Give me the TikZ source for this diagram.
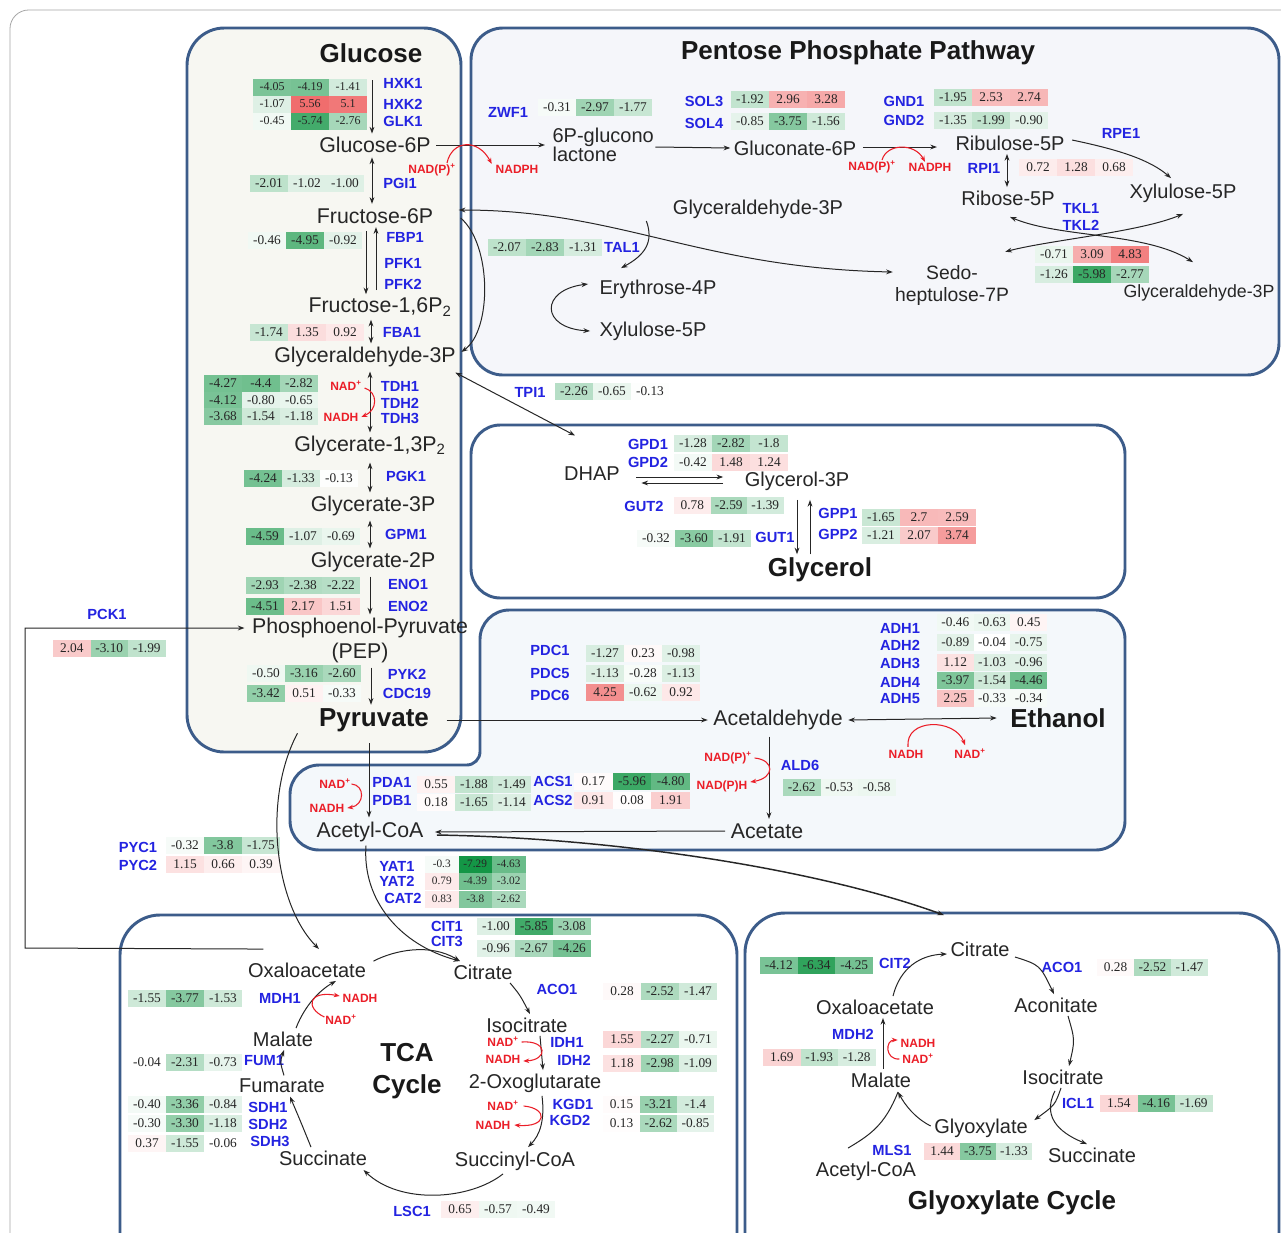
\documentclass[tikz,border=0pt]{standalone}
\usepackage{fontspec}
\setmainfont{Liberation Sans}
\newfontfamily\tnr{Liberation Serif}
\usetikzlibrary{arrows.meta,calc}
\definecolor{boxc}{RGB}{60,92,138}
\definecolor{enz}{RGB}{35,35,225}
\definecolor{nadc}{RGB}{235,30,40}
\definecolor{hmgreen}{RGB}{20,150,70}
\definecolor{hmred}{RGB}{235,65,65}
\definecolor{glcfill}{RGB}{247,247,242}
\definecolor{pppfill}{RGB}{245,246,250}
\definecolor{acfill}{RGB}{244,248,251}
\def\hmfs{10}
\newcommand\hmcell[5]{%
  \pgfmathtruncatemacro\hmneg{(#5)<0}%
  \pgfmathtruncatemacro\hmpct{min(100,abs(#5)*14)}%
  \ifnum\hmneg=1 \colorlet{hmc}{hmgreen!\hmpct!white}\else\colorlet{hmc}{hmred!\hmpct!white}\fi
  \node[hcell, minimum width={#4*0.75pt}, fill=hmc, font=\tnr\fontsize{\hmfs}{10}\selectfont] (#1) at ({#2},{#3}) {#5};}
\newcommand\hmrow[7]{%
  \hmcell{#1a}{#2+0.5*#4}{#3}{#4}{#5}%
  \hmcell{#1b}{#2+1.5*#4}{#3}{#4}{#6}%
  \hmcell{#1c}{#2+2.5*#4}{#3}{#4}{#7}}
\tikzset{
 met/.style={inner sep=1pt, font=\fontsize{15}{17}\selectfont, text=black!85},
 metL/.style={inner sep=1pt, font=\fontsize{16}{19}\selectfont, text=black!85},
 ttl/.style={inner sep=1pt, font=\fontsize{19.5}{24}\selectfont\bfseries, text=black!90},
 enzl/.style={inner sep=0.5pt, font=\fontsize{11}{12}\selectfont\bfseries, text=enz},
 nad/.style={inner sep=0.5pt, font=\fontsize{9}{10}\selectfont\bfseries, text=nadc},
 hcell/.style={inner sep=0pt, minimum height=12.75pt, text=black!85},
 rx/.style={-{Stealth[length=5pt,width=3.6pt]}, line width=0.75pt, black!85},
 rxx/.style={{Stealth[length=5pt,width=3.6pt]}-{Stealth[length=5pt,width=3.6pt]}, line width=0.75pt, black!85},
 rl/.style={line width=0.75pt, black!85},
 rr/.style={-{Stealth[length=4.5pt,width=3.4pt]}, line width=0.8pt, nadc},
 panel/.style={draw=boxc, line width=2.2pt},
}
\begin{document}
\begin{tikzpicture}[x=0.75pt,y=-0.75pt]
\useasboundingbox (0,0) rectangle (1281,1232);
\clip (0,0) rectangle (1281,1232);
\fill[white] (0,0) rectangle (1281,1232);
\draw[black!35, line width=0.6pt, rounded corners=14pt] (10,1250) -- (10,10) -- (1300,10);
% ---------- panels
\draw[panel, fill=pppfill, rounded corners=24pt] (471,28) rectangle (1279,375);
\draw[panel, fill=white, rounded corners=22pt] (471,425) rectangle (1125,598);
\draw[panel, fill=acfill] (480,700) [rounded corners=22pt] -- (480,610) -- (1125,610) -- (1125,850) -- (290,850) -- (290,765) [rounded corners=10pt] -- (480,765) -- cycle;
\draw[panel, fill=glcfill, rounded corners=28pt] (187,28) rectangle (461,752);
\draw[panel, fill=white, rounded corners=30pt] (120,915) rectangle (737,1290);
\draw[panel, fill=white, rounded corners=30pt] (745,913) rectangle (1279,1290);
% ---------- titles
\node[ttl] (glcT) at (371,53) {Glucose};
\node[ttl] (pppT) at (858,53) {Pentose Phosphate Pathway};
\node[ttl] (glyc) at (820,570) {Glycerol};
\node[ttl] (etoh) at (1058,718) {Ethanol};
\node[ttl] (pyr) at (374,720) {Pyruvate};
\node[ttl, align=center] (tcaT) at (407,1071) {TCA\\Cycle};
\node[ttl] (glxT) at (1012,1203) {Glyoxylate Cycle};
% ---------- glycolysis metabolites
\node[metL] (g6p) at (375,145) {Glucose-6P};
\node[metL] (f6p) at (375,216) {Fructose-6P};
\node[metL] (f16p) at (380,307) {Fructose-1,6P\textsubscript{2}};
\node[metL] (gap) at (365,357) {Glyceraldehyde-3P};
\node[metL] (g13p) at (370,446) {Glycerate-1,3P\textsubscript{2}};
\node[metL] (g3p) at (373,506) {Glycerate-3P};
\node[metL] (g2p) at (373,562) {Glycerate-2P};
\node[metL] (pep1) at (360,628) {Phosphoenol-Pyruvate};
\node[metL] (pep2) at (360,653) {(PEP)};
% ---------- PPP metabolites
\node[met, anchor=west, align=left, font=\fontsize{15}{14}\selectfont] (lac) at (551,145) {6P-glucono\\lactone};
\node[met] (glc6p) at (795,148) {Gluconate-6P};
\node[met] (ru5p) at (1010,143) {Ribulose-5P};
\node[met] (xu5p) at (1183,193) {Xylulose-5P};
\node[met] (r5p) at (1008,198) {Ribose-5P};
\node[met, inner sep=0pt, font=\fontsize{14.5}{16}\selectfont] (s7p) at (952,273) {Sedo-};
\node[met, inner sep=0pt, font=\fontsize{14.5}{16}\selectfont] (s7pb) at (952,296) {heptulose-7P};
\node[met, font=\fontsize{13.3}{15}\selectfont] (gap2) at (1199,293) {Glyceraldehyde-3P};
\node[met] (gapP) at (758,209) {Glyceraldehyde-3P};
\node[met] (e4p) at (658,289) {Erythrose-4P};
\node[met] (xu5p2) at (653,331) {Xylulose-5P};
% ---------- glycerol
\node[met] (dhap) at (592,474) {DHAP};
\node[met] (g3pol) at (797,481) {Glycerol-3P};
% ---------- acetyl region
\node[metL] (acald) at (778,720) {Acetaldehyde};
\node[metL] (acetate) at (767,831) {Acetate};
\node[metL] (accoa) at (370,832) {Acetyl-CoA};
% ---------- TCA
\node[met] (oaa) at (307,970) {Oxaloacetate};
\node[met] (cit) at (483,972) {Citrate};
\node[met] (icit) at (527,1025) {Isocitrate};
\node[met] (oxg) at (535,1083) {2-Oxoglutarate};
\node[met] (succoa) at (515,1161) {Succinyl-CoA};
\node[met] (succ) at (323,1158) {Succinate};
\node[met] (fum) at (282,1086) {Fumarate};
\node[met] (mal) at (283,1039) {Malate};
% ---------- glyoxylate
\node[met] (cit2) at (980,949) {Citrate};
\node[met] (acon) at (1056,1005) {Aconitate};
\node[met] (icit2) at (1063,1077) {Isocitrate};
\node[met] (glyox) at (981,1128) {Glyoxylate};
\node[met] (succ2) at (1092,1155) {Succinate};
\node[met] (accoa2) at (866,1171) {Acetyl-CoA};
\node[met] (mal2) at (881,1080) {Malate};
\node[met] (oaa2) at (875,1007) {Oxaloacetate};
% ---------- enzyme labels
\foreach \n/\x/\y/\t in {hxk1/403/83/HXK1, hxk2/403/104/HXK2, glk1/403/121/GLK1, pgi1/400/183/PGI1, fbp1/405/237/FBP1, pfk1/403/263/PFK1, pfk2/403/284/PFK2, fba1/402/332/FBA1, tdh1/400/386/TDH1, tdh2/400/403/TDH2, tdh3/400/418/TDH3, pgk1/406/476/PGK1, gpm1/406/534/GPM1, eno1/408/584/ENO1, eno2/408/606/ENO2, pyk2/407/674/PYK2, cdc19/407/693/CDC19, pck1/107/614/PCK1, zwf1/508/112/ZWF1, sol3/704/101/SOL3, sol4/704/123/SOL4, gnd1/904/101/GND1, gnd2/904/120/GND2, rpe1/1121/133/RPE1, rpi1/984/168/RPI1, tkl1/1081/208/TKL1, tkl2/1081/225/TKL2, tal1/622/247/TAL1, tpi1/530/392/TPI1, gpd1/648/444/GPD1, gpd2/648/462/GPD2, gut2/644/506/GUT2, gut1/775/537/GUT1, gpp1/838/513/GPP1, gpp2/838/534/GPP2, pdc1/550/650/PDC1, pdc5/550/673/PDC5, pdc6/550/695/PDC6, adh1/900/628/ADH1, adh2/900/645/ADH2, adh3/900/663/ADH3, adh4/900/682/ADH4, adh5/900/699/ADH5, ald6/800/765/ALD6, pda1/392/782/PDA1, pdb1/392/800/PDB1, acs1/553/781/ACS1, acs2/553/800/ACS2, yat1/397/866/YAT1, yat2/397/881/YAT2, cat2/403/898/CAT2, pyc1/138/847/PYC1, pyc2/138/865/PYC2, cit1/447/926/CIT1, cit3/447/941/CIT3, aco1/557/989/ACO1, idh1/567/1042/IDH1, idh2/574/1060/IDH2, kgd1/573/1104/KGD1, kgd2/570/1120/KGD2, lsc1/412/1211/LSC1, mdh1/280/998/MDH1, fum1/264/1061/FUM1, sdh1/268/1107/SDH1, sdh2/268/1124/SDH2, sdh3/270/1141/SDH3, cit2e/895/963/CIT2, aco1g/1062/967/ACO1, icl1/1078/1103/ICL1, mls1/892/1150/MLS1, mdh2/853/1034/MDH2}
  \node[enzl] (L\n) at (\x,\y) {\t};
% ---------- cofactors
\node[nad] (nadpG) at (432,170) {NAD(P)\textsuperscript{+}};
\node[nad] (nadphG) at (517,169) {NADPH};
\node[nad] (nadpP) at (872,167) {NAD(P)\textsuperscript{+}};
\node[nad] (nadphP) at (930,167) {NADPH};
\node[nad] (nadT) at (346,386) {NAD\textsuperscript{+}};
\node[nad] (nadhT) at (341,417) {NADH};
\node[nad] (nadpA) at (728,758) {NAD(P)\textsuperscript{+}};
\node[nad] (nadphA) at (722,786) {NAD(P)H};
\node[nad] (nadhE) at (906,754) {NADH};
\node[nad] (nadE) at (970,754) {NAD\textsuperscript{+}};
\node[nad] (nadPd) at (335,784) {NAD\textsuperscript{+}};
\node[nad] (nadhPd) at (327,808) {NADH};
\node[nad] (nadhM1) at (360,998) {NADH};
\node[nad] (nadM1) at (341,1020) {NAD\textsuperscript{+}};
\node[nad] (nadI) at (503,1042) {NAD\textsuperscript{+}};
\node[nad] (nadhI) at (503,1059) {NADH};
\node[nad] (nadK) at (503,1106) {NAD\textsuperscript{+}};
\node[nad] (nadhK) at (493,1125) {NADH};
\node[nad] (nadhM2) at (918,1043) {NADH};
\node[nad] (nadM2) at (918,1059) {NAD\textsuperscript{+}};
% ---------- heat map rows
\def\hmfs{9}
\hmrow{hxkA}{253}{87}{38}{-4.05}{-4.19}{-1.41}
\hmrow{hxkB}{253}{104}{38}{-1.07}{5.56}{5.1}
\hmrow{hxkC}{253}{121}{38}{-0.45}{-5.74}{-2.76}
\def\hmfs{10}
\hmrow{pgi}{250}{183}{38}{-2.01}{-1.02}{-1.00}
\hmrow{fbp}{248}{240}{38}{-0.46}{-4.95}{-0.92}
\hmrow{fba}{250}{332}{38}{-1.74}{1.35}{0.92}
\hmrow{tdhA}{204}{383}{38}{-4.27}{-4.4}{-2.82}
\hmrow{tdhB}{204}{400}{38}{-4.12}{-0.80}{-0.65}
\hmrow{tdhC}{204}{416}{38}{-3.68}{-1.54}{-1.18}
\hmrow{pgk}{244}{478}{38}{-4.24}{-1.33}{-0.13}
\hmrow{gpm}{246}{536}{38}{-4.59}{-1.07}{-0.69}
\hmrow{enoA}{246}{585}{38}{-2.93}{-2.38}{-2.22}
\hmrow{enoB}{246}{606}{38}{-4.51}{2.17}{1.51}
\hmrow{pykA}{247}{673}{38}{-0.50}{-3.16}{-2.60}
\hmrow{pykB}{247}{693}{38}{-3.42}{0.51}{-0.33}
\hmrow{pck}{53}{648}{37.5}{2.04}{-3.10}{-1.99}
\hmrow{zwf}{538}{107}{38}{-0.31}{-2.97}{-1.77}
\hmrow{solA}{731}{99}{38}{-1.92}{2.96}{3.28}
\hmrow{solB}{731}{121}{38}{-0.85}{-3.75}{-1.56}
\hmrow{gndA}{934}{97}{38}{-1.95}{2.53}{2.74}
\hmrow{gndB}{934}{120}{38}{-1.35}{-1.99}{-0.90}
\hmrow{rpi}{1019}{167}{38}{0.72}{1.28}{0.68}
\hmrow{tklA}{1035}{254}{38}{-0.71}{3.09}{4.83}
\hmrow{tklB}{1035}{274}{38}{-1.26}{-5.98}{-2.77}
\hmrow{tal}{488}{247}{38}{-2.07}{-2.83}{-1.31}
\hmrow{tpi}{555}{391}{38}{-2.26}{-0.65}{-0.13}
\hmrow{gpdA}{674}{443}{38}{-1.28}{-2.82}{-1.8}
\hmrow{gpdB}{674}{462}{38}{-0.42}{1.48}{1.24}
\hmrow{gutB}{674}{505}{36.5}{0.78}{-2.59}{-1.39}
\hmrow{gutA}{637}{538}{38}{-0.32}{-3.60}{-1.91}
\hmrow{gppA}{862}{517}{38}{-1.65}{2.7}{2.59}
\hmrow{gppB}{862}{535}{38}{-1.21}{2.07}{3.74}
\hmrow{pdcA}{586}{653}{38}{-1.27}{0.23}{-0.98}
\hmrow{pdcB}{586}{673}{38}{-1.13}{-0.28}{-1.13}
\hmrow{pdcC}{586}{692}{38}{4.25}{-0.62}{0.92}
\hmrow{adhA}{937}{622}{36.7}{-0.46}{-0.63}{0.45}
\hmrow{adhB}{937}{642}{36.7}{-0.89}{-0.04}{-0.75}
\hmrow{adhC}{937}{662}{36.7}{1.12}{-1.03}{-0.96}
\hmrow{adhD}{937}{680}{36.7}{-3.97}{-1.54}{-4.46}
\hmrow{adhE}{937}{698}{36.7}{2.25}{-0.33}{-0.34}
\hmrow{ald}{783}{787}{37.5}{-2.62}{-0.53}{-0.58}
\hmrow{pdaA}{417}{784}{38}{0.55}{-1.88}{-1.49}
\hmrow{pdaB}{417}{802}{38}{0.18}{-1.65}{-1.14}
\hmrow{acsA}{574}{781}{38.7}{0.17}{-5.96}{-4.80}
\hmrow{acsB}{574}{800}{38.7}{0.91}{0.08}{1.91}
\def\hmfs{8.5}
\hmrow{yatA}{425}{864}{33.5}{-0.3}{-7.29}{-4.63}
\hmrow{yatB}{425}{881}{33.5}{0.79}{-4.39}{-3.02}
\hmrow{catB}{425}{899}{33.5}{0.83}{-3.8}{-2.62}
\def\hmfs{10}
\hmrow{pycA}{166}{845}{38}{-0.32}{-3.8}{-1.75}
\hmrow{pycB}{166}{864}{38}{1.15}{0.66}{0.39}
\hmrow{citA}{477}{926}{38}{-1.00}{-5.85}{-3.08}
\hmrow{citB}{477}{948}{38}{-0.96}{-2.67}{-4.26}
\hmrow{aco}{603}{991}{38}{0.28}{-2.52}{-1.47}
\hmrow{idhA}{603}{1039}{38}{1.55}{-2.27}{-0.71}
\hmrow{idhB}{603}{1063}{38}{1.18}{-2.98}{-1.09}
\hmrow{kgdA}{603}{1104}{37}{0.15}{-3.21}{-1.4}
\hmrow{kgdB}{603}{1123}{37}{0.13}{-2.62}{-0.85}
\hmrow{lsc}{441}{1209}{38}{0.65}{-0.57}{-0.49}
\hmrow{mdhA}{128}{998}{38}{-1.55}{-3.77}{-1.53}
\hmrow{fumA}{128}{1062}{38}{-0.04}{-2.31}{-0.73}
\hmrow{sdhA}{128}{1104}{38}{-0.40}{-3.36}{-0.84}
\hmrow{sdhB}{128}{1123}{38}{-0.30}{-3.30}{-1.18}
\hmrow{sdhC}{128}{1143}{38}{0.37}{-1.55}{-0.06}
\hmrow{citG}{760}{965}{37.7}{-4.12}{-6.34}{-4.25}
\hmrow{acoG}{1097}{967}{37}{0.28}{-2.52}{-1.47}
\hmrow{icl}{1100}{1103}{37.5}{1.54}{-4.16}{-1.69}
\hmrow{mls}{924}{1151}{36}{1.44}{-3.75}{-1.33}
\hmrow{mdhB}{763}{1057}{37.5}{1.69}{-1.93}{-1.28}
% ---------- glycolysis connectors
\draw[rx] ($(glcT.south)+(1,16)$) -- ($(g6p.north)+(-3,-2)$);
\draw[rxx] ($(g6p.south)+(-3,3)$) -- ($(f6p.north)+(-3,-3)$);
\draw[rx] ($(f16p.north)+(-4,-6)$) -- ($(f6p.south)+(1,2)$);
\draw[rx] ($(f6p.south)+(-9,6)$) -- ($(f16p.north)+(-14,-2)$);
\draw[rxx] ($(f16p.south)+(-9,2)$) -- ($(gap.north)+(6,-2)$);
\draw[rxx] ($(gap.south)+(5,3)$) -- ($(g13p.north)+(0,-2)$);
\draw[rxx] ($(g13p.south)+(0,5)$) -- ($(g3p.north)+(-3,-2)$);
\draw[rxx] ($(g3p.south)+(-3,3)$) -- ($(g2p.north)+(-3,-2)$);
\draw[rx] ($(g2p.south)+(-3,3)$) -- ($(pep1.north)+(10,-2)$);
\draw[rx] ($(pep2.south)+(11,3)$) -- ($(pyr.north)+(-3,-2)$);
\draw[rr] ($(nadT.east)+(2,2)$) .. controls (378,392) and (378,410) .. ($(nadhT.east)+(2,0)$);
\coordinate (pckS) at ($(oaa.north west)+(17,-12)$);
\draw[rx] (pckS) -- (25,948) |- ($(pep1.west)+(-6,0)$);
% ---------- PPP connectors
\draw[rx] ($(g6p.east)+(4,0)$) -- ($(lac.west)+(-6,0)$);
\draw[rr] ($(nadpG.north)+(15,0)$) .. controls (452,140) and (478,138) .. ($(nadphG.north west)+(-3,0)$);
\draw[rx] ($(lac.east)+(0,2)$) -- ($(glc6p.west)+(-2,0)$);
\draw[rx] ($(glc6p.east)+(5,-1)$) -- ($(ru5p.west)+(-17,4)$);
\draw[rr] ($(nadpP.north)+(10,0)$) .. controls (887,143) and (915,143) .. ($(nadphP.north)+(-5,0)$);
\draw[rx] ($(ru5p.east)+(6,-3)$) .. controls (1120,150) and (1150,160) .. ($(xu5p.north)+(-12,-4)$);
\draw[rxx] ($(ru5p.south)+(-3,2)$) -- ($(r5p.north)+(-1,-2)$);
\draw[rxx] ($(r5p.south)+(2,10)$) .. controls (1060,238) and (1145,232) .. ($(gap2.north)+(-6,-21)$);
\draw[rxx] ($(s7pb.north east)+(-4,-35)$) .. controls (1050,240) and (1140,232) .. ($(xu5p.south)+(0,10)$);
\draw[rxx] ($(f6p.east)+(24,-6)$) .. controls (620,210) and (700,268) .. ($(s7pb.west)+(-2,-24)$);
\draw[rx] ($(gapP.west)+(-25,12)$) .. controls (654,242) and (645,255) .. ($(e4p.north west)+(23,-10)$);
\draw[rxx] ($(e4p.west)+(-10,-5)$) .. controls (540,290) and (540,328) .. ($(xu5p2.west)+(-8,0)$);
\draw[rx] ($(f6p.east)+(26,2)$) .. controls (492,245) and (492,330) .. ($(gap.east)+(4,-5)$);
\draw[rxx] ($(gap.south east)+(-2,4)$) -- ($(dhap.north)+(-17,-30)$);
% ---------- glycerol connectors
\draw[rx] ($(dhap.east)+(15,3)$) -- ($(g3pol.west)+(-20,-4)$);
\draw[rx] ($(g3pol.west)+(-20,2)$) -- ($(dhap.east)+(20,9)$);
\draw[rx] ($(g3pol.south)+(0,8)$) -- ($(glyc.north)+(-23,-2)$);
\draw[rx] ($(glyc.north)+(-10,-2)$) -- ($(g3pol.south)+(13,8)$);
% ---------- fermentation connectors
\draw[rx] ($(pyr.east)+(16,0)$) -- ($(acald.west)+(-4,0)$);
\draw[rxx] ($(acald.east)+(4,0)$) -- ($(etoh.west)+(-12,0)$);
\draw[rr] ($(nadhE.north)+(2,-2)$) .. controls (905,718) and (955,718) .. ($(nadE.north)+(-5,-3)$);
\draw[rx] ($(acald.south -| acetate.north)+(2,5)$) -- ($(acetate.north)+(2,-3)$);
\draw[rr] ($(nadpA.east)+(2,0)$) .. controls (775,760) and (775,778) .. ($(nadphA.east)+(2,-4)$);
\draw[rx] ($(acetate.west)+(-4,0)$) -- ($(accoa.east)+(10,0)$);
\draw[rx] ($(pyr.south)+(-5,10)$) -- ($(accoa.north)+(-1,-3)$);
\draw[rr] ($(nadPd.east)+(0,0)$) .. controls (365,785) and (365,805) .. ($(nadhPd.east)+(2,0)$);
\draw[rx, line width=1.1pt] ($(accoa.east)+(12,3)$) .. controls (620,838) and (820,870) .. ($(cit2.north west)+(-5,-25)$);
% ---------- TCA connectors
\draw[rx] ($(pyr.south west)+(-20,0)$) .. controls (262,800) and (275,905) .. ($(oaa.north)+(12,-12)$);
\draw[rx] ($(accoa.south)+(-4,2)$) .. controls (362,900) and (400,945) .. ($(cit.north west)+(8,-2)$);
\draw[rx] ($(oaa.north east)+(6,0)$) .. controls (395,950) and (430,943) .. ($(cit.north west)+(8,-2)$);
\draw[rx] ($(cit.south east)+(-4,2)$) .. controls (520,995) .. ($(icit.north)+(3,-2)$);
\draw[rx] ($(icit.south)+(13,2)$) -- ($(oxg.north)+(8,-2)$);
\draw[rr] ($(nadI.east)+(2,0)$) .. controls (548,1040) and (548,1060) .. ($(nadhI.east)+(2,2)$);
\draw[rx] ($(oxg.south)+(7,2)$) .. controls (545,1120) and (540,1135) .. ($(succoa.north)+(13,-3)$);
\draw[rr] ($(nadK.east)+(4,0)$) .. controls (548,1108) and (548,1128) .. ($(nadhK.east)+(3,0)$);
\draw[rx] ($(succoa.south)+(-12,2)$) .. controls (470,1200) and (400,1205) .. ($(succ.south east)+(-5,3)$);
\draw[rx] ($(succ.north)+(-12,-2)$) .. controls (300,1120) .. ($(fum.south)+(8,2)$);
\draw[rx] ($(fum.north)+(2,-2)$) .. controls (280,1062) .. ($(mal.south)+(1,2)$);
\draw[rx] ($(mal.north)+(13,-2)$) .. controls (305,1005) and (320,990) .. ($(oaa.south)+(29,2)$);
\draw[rr] ($(nadM1.west)+(0,-3)$) .. controls (305,1008) and (308,990) .. ($(nadhM1.west)+(-2,-2)$);
% ---------- glyoxylate connectors
\draw[rx] ($(oaa2.north)+(18,-2)$) .. controls (900,968) and (920,955) .. ($(cit2.west)+(-2,5)$);
\draw[rx] ($(cit2.east)+(4,8)$) .. controls (1040,965) .. ($(acon.north)+(-2,-2)$);
\draw[rx] ($(acon.south)+(12,2)$) .. controls (1075,1040) .. ($(icit2.north)+(6,-2)$);
\draw[rx] ($(icit2.south)+(-2,2)$) .. controls (1055,1105) .. ($(glyox.north east)+(5,3)$);
\draw[rx] ($(icit2.south)+(-8,5)$) .. controls (1040,1120) and (1065,1135) .. ($(succ2.north)+(-5,-2)$);
\draw[rx] ($(glyox.west)+(-2,-2)$) .. controls (915,1118) and (905,1105) .. ($(mal2.south)+(17,3)$);
\draw[rl] ($(accoa2.north)+(-18,-12)$) .. controls (870,1135) and (885,1125) .. ($(mal2.south)+(17,3)$);
\draw[rx] ($(mal2.north)+(2,-2)$) -- ($(oaa2.south)+(8,2)$);
\draw[rr] ($(nadM2.west)+(-2,0)$) .. controls (885,1060) and (885,1040) .. ($(nadhM2.west)+(-2,-3)$);
\end{tikzpicture}
\end{document}
